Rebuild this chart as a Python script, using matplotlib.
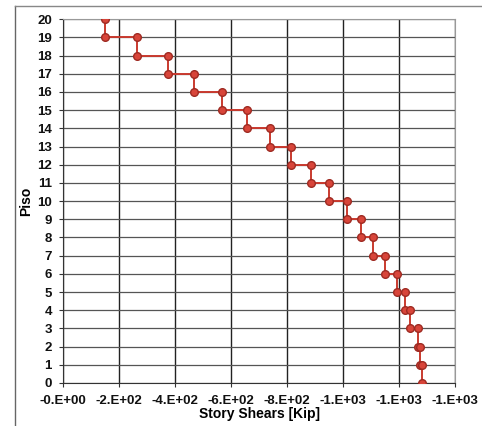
import numpy as np
import matplotlib.pyplot as plt
from matplotlib.lines import Line2D

# story shear per story, from story 20 (top) down to story 1
stories = list(range(20, 0, -1))
shears = [-150, -264, -375, -468, -568, -657, -739, -814, -886, -950,
          -1014, -1064, -1107, -1150, -1193, -1221, -1239, -1268, -1275, -1282]

x_ticks = [0, -200, -400, -600, -800, -1000, -1200, -1400]
x_labels = ['-0.E+00', '-2.E+02', '-4.E+02', '-6.E+02', '-8.E+02',
            '-1.E+03', '-1.E+03', '-1.E+03']
y_ticks = list(range(0, 21))

# each story gives a vertical segment from floor k down to floor k-1
xs = []
ys = []
for k, v in zip(stories, shears):
    xs += [v, v]
    ys += [k, k - 1]

plt.rcParams['font.family'] = ['Liberation Sans', 'DejaVu Sans']
plt.rcParams['font.weight'] = 'bold'

fig = plt.figure(figsize=(4.82, 4.26), dpi=100)
ax = fig.add_axes([0.1307, 0.101, 0.8133, 0.854])

ax.plot(xs, ys, color='#c93a2e', lw=1.4, marker='o', markersize=5.5,
        markerfacecolor='#d8453a', markeredgecolor='#9e2a22', markeredgewidth=1.0,
        zorder=3)

ax.set_xlim(0, -1400)
ax.set_ylim(0, 20)
ax.set_xticks(x_ticks)
ax.set_xticklabels(x_labels)
ax.set_yticks(y_ticks)

for t in x_ticks:
    ax.axvline(t, color='#222222', lw=1.0, zorder=1)
for t in y_ticks:
    ax.axhline(t, color='#555555', lw=0.9, zorder=1)

ax.tick_params(axis='both', direction='out', length=3, width=0.8,
               colors='#333333', labelsize=9.5, labelcolor='#111111')
ax.tick_params(axis='x', pad=6)
ax.tick_params(axis='y', pad=5)
for lab in ax.get_xticklabels() + ax.get_yticklabels():
    lab.set_fontweight('bold')

ax.spines['left'].set_color('#333333')
ax.spines['bottom'].set_color('#333333')
ax.spines['top'].set_color('#999999')
ax.spines['right'].set_color('#999999')

ax.set_xlabel('Story Shears [Kip]', fontsize=10, fontweight='bold', labelpad=0)
ax.set_ylabel('Piso', fontsize=10, fontweight='bold', labelpad=3)

# outer chart frame (clipped on the right and bottom in the scan)
fig.add_artist(Line2D([0.031, 0.031], [0.0, 0.986], color='#666666', lw=1.0))
fig.add_artist(Line2D([0.031, 1.0], [0.986, 0.986], color='#888888', lw=1.0))

fig.savefig('out.png', dpi=100)
